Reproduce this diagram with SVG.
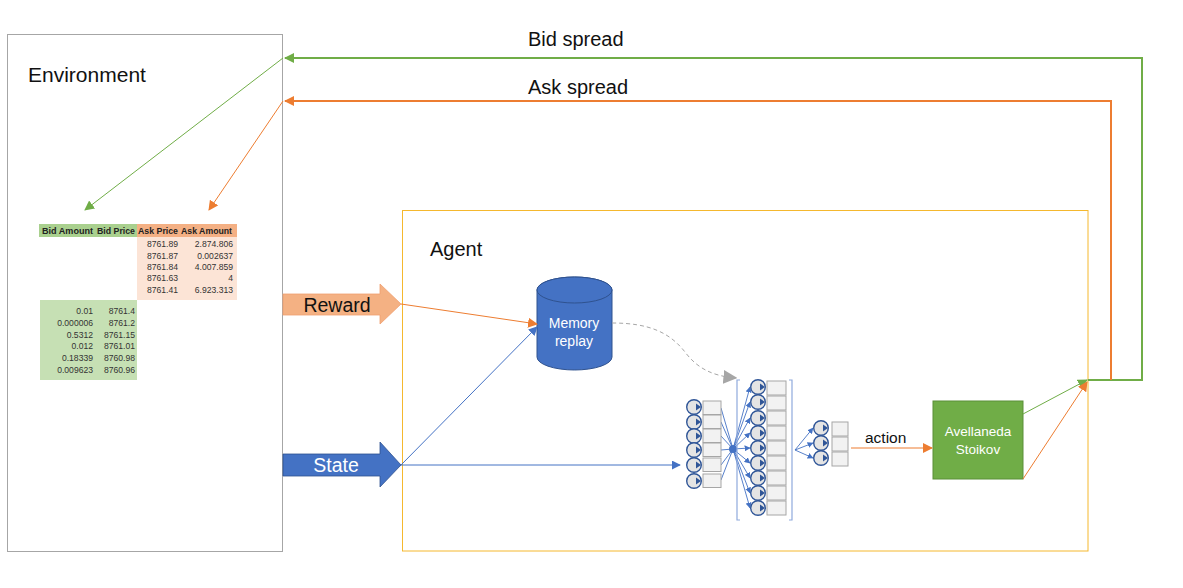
<svg xmlns="http://www.w3.org/2000/svg" width="1183" height="588" viewBox="0 0 1183 588">
<style>
.t{font-family:"Liberation Sans",Arial,sans-serif}
.hd{font-family:"Liberation Sans",Arial,sans-serif;font-size:9px;font-weight:bold;fill:#222}
.v{font-family:"Liberation Sans",Arial,sans-serif;font-size:8.6px;fill:#333;text-anchor:end}
.nc{fill:#E4E4E4;stroke:#2F5597;stroke-width:1.4}
.nr{fill:#F2F2F2;stroke:#A6A6A6;stroke-width:1}
.nl{stroke:#4472C4;stroke-width:0.9;fill:none}
</style>
<defs>
<marker id="ag" viewBox="0 0 10 10" refX="9" refY="5" markerWidth="10" markerHeight="10" markerUnits="userSpaceOnUse" orient="auto"><path d="M0,0L10,5L0,10Z" fill="#70AD47"/></marker>
<marker id="ao" viewBox="0 0 10 10" refX="9" refY="5" markerWidth="10" markerHeight="10" markerUnits="userSpaceOnUse" orient="auto"><path d="M0,0L10,5L0,10Z" fill="#ED7D31"/></marker>
<marker id="ab" viewBox="0 0 10 10" refX="9" refY="5" markerWidth="9" markerHeight="9" markerUnits="userSpaceOnUse" orient="auto"><path d="M0,0L10,5L0,10Z" fill="#4472C4"/></marker>
<marker id="abs" viewBox="0 0 10 10" refX="9" refY="5" markerWidth="6" markerHeight="6" markerUnits="userSpaceOnUse" orient="auto"><path d="M0,0L10,5L0,10Z" fill="#4472C4"/></marker>
<marker id="agr" viewBox="0 0 10 10" refX="9" refY="5" markerWidth="14" markerHeight="14" markerUnits="userSpaceOnUse" orient="auto"><path d="M0,0L10,5L0,10Z" fill="#A6A6A6"/></marker>
<g id="neu"><circle class="nc" cx="0" cy="0" r="7.3"/><path d="M2,-3.5L7,0L2,3.5Z" fill="#2F5597"/></g>
</defs>

<g id="environment">
<rect x="7.5" y="34.5" width="275" height="517" fill="#fff" stroke="#A6A6A6" stroke-width="1"/>
<text class="t" x="28" y="82" font-size="21" fill="#111">Environment</text>
</g>

<g id="orderbook">
<rect x="39" y="224" width="98" height="13" fill="#A9D08E"/>
<rect x="137" y="224" width="100" height="13" fill="#F4B084"/>
<rect x="137" y="237" width="100" height="63" fill="#FCE4D6"/>
<rect x="40" y="300" width="97" height="80" fill="#C6E0B4"/>
<text class="hd" x="42" y="234" textLength="51" lengthAdjust="spacingAndGlyphs">Bid Amount</text>
<text class="hd" x="97" y="234" textLength="38" lengthAdjust="spacingAndGlyphs">Bid Price</text>
<text class="hd" x="138" y="234" textLength="40" lengthAdjust="spacingAndGlyphs">Ask Price</text>
<text class="hd" x="181" y="234" textLength="51" lengthAdjust="spacingAndGlyphs">Ask Amount</text>
<text class="v" x="178" y="247">8761.89</text><text class="v" x="233" y="247">2.874.806</text>
<text class="v" x="178" y="259">8761.87</text><text class="v" x="233" y="259">0.002637</text>
<text class="v" x="178" y="270">8761.84</text><text class="v" x="233" y="270">4.007.859</text>
<text class="v" x="178" y="281">8761.63</text><text class="v" x="233" y="281">4</text>
<text class="v" x="178" y="293">8761.41</text><text class="v" x="233" y="293">6.923.313</text>
<text class="v" x="93" y="314">0.01</text><text class="v" x="135" y="314">8761.4</text>
<text class="v" x="93" y="326">0.000006</text><text class="v" x="135" y="326">8761.2</text>
<text class="v" x="93" y="338">0.5312</text><text class="v" x="135" y="338">8761.15</text>
<text class="v" x="93" y="349">0.012</text><text class="v" x="135" y="349">8761.01</text>
<text class="v" x="93" y="361">0.18339</text><text class="v" x="135" y="361">8760.98</text>
<text class="v" x="93" y="373">0.009623</text><text class="v" x="135" y="373">8760.96</text>
</g>

<g id="agent">
<rect x="402.5" y="210.5" width="685.5" height="340.5" fill="none" stroke="#F5B82E" stroke-width="1"/>
<text class="t" x="430" y="256" font-size="20" fill="#111">Agent</text>
</g>

<g id="reward">
<path d="M283,294 L380,294 L380,284 L401,304 L380,324 L380,315 L283,315 Z" fill="#F4B183" stroke="#F0A070" stroke-width="0.8"/>
<text class="t" x="337" y="312" font-size="19.5" text-anchor="middle" fill="#111">Reward</text>
</g>

<g id="state">
<path d="M283,454 L380,454 L380,442 L401,465 L380,487 L380,476 L283,476 Z" fill="#4472C4" stroke="#2F528F" stroke-width="0.8"/>
<text class="t" x="336" y="472" font-size="19.5" text-anchor="middle" fill="#fff">State</text>
</g>

<g id="memory-replay">
<path d="M537,290 L537,357 A37.5,13 0 0 0 612,357 L612,290 A37.5,13 0 0 0 537,290 Z" fill="#4472C4" stroke="#2F528F" stroke-width="1"/>
<ellipse cx="574.5" cy="290" rx="37.5" ry="13" fill="#4472C4" stroke="#2F528F" stroke-width="1"/>
<text class="t" x="574" y="328" font-size="14" text-anchor="middle" fill="#fff">Memory</text>
<text class="t" x="574" y="346" font-size="14" text-anchor="middle" fill="#fff">replay</text>
</g>

<g id="neural-network">
<g class="nl">
<path d="M721,408L733,449M721,422L733,449M721,436L733,449M721,450L733,449M721,465L733,449M721,480L733,449"/>
</g>
<g class="nl" marker-end="url(#abs)">
<path d="M733,449L750,387"/><path d="M733,449L750,402"/><path d="M733,449L750,418"/><path d="M733,449L750,433"/><path d="M733,449L750,448"/><path d="M733,449L750,463"/><path d="M733,449L750,478"/><path d="M733,449L750,493"/><path d="M733,449L750,508"/>
<path d="M795,450L813,428"/><path d="M795,450L813,443"/><path d="M795,450L813,458"/>
</g>
<circle cx="733" cy="449" r="4" fill="#4472C4"/>
<path d="M740,380 L737,380 L737,520 L740,520 M789,380 L792,380 L792,520 L789,520" fill="none" stroke="#8FAADC" stroke-width="1.2"/>
<g>
<rect class="nr" x="703" y="401" width="18" height="13.5"/><rect class="nr" x="703" y="415" width="18" height="13.5"/><rect class="nr" x="703" y="429" width="18" height="13.5"/><rect class="nr" x="703" y="443" width="18" height="13.5"/><rect class="nr" x="703" y="458" width="18" height="13.5"/><rect class="nr" x="703" y="474" width="18" height="13.5"/>
<use href="#neu" x="694" y="407"/><use href="#neu" x="694" y="422"/><use href="#neu" x="694" y="436"/><use href="#neu" x="694" y="450"/><use href="#neu" x="694" y="465"/><use href="#neu" x="694" y="481"/>
</g>
<g>
<rect class="nr" x="767" y="381" width="19" height="14"/><rect class="nr" x="767" y="396" width="19" height="14"/><rect class="nr" x="767" y="411" width="19" height="14"/><rect class="nr" x="767" y="426" width="19" height="14"/><rect class="nr" x="767" y="441" width="19" height="14"/><rect class="nr" x="767" y="456" width="19" height="14"/><rect class="nr" x="767" y="471" width="19" height="14"/><rect class="nr" x="767" y="486" width="19" height="14"/><rect class="nr" x="767" y="501" width="19" height="14"/>
<use href="#neu" x="758" y="387"/><use href="#neu" x="758" y="402"/><use href="#neu" x="758" y="418"/><use href="#neu" x="758" y="433"/><use href="#neu" x="758" y="448"/><use href="#neu" x="758" y="463"/><use href="#neu" x="758" y="478"/><use href="#neu" x="758" y="493"/><use href="#neu" x="758" y="508"/>
</g>
<g>
<rect class="nr" x="832" y="422" width="16" height="14"/><rect class="nr" x="832" y="437" width="16" height="14"/><rect class="nr" x="832" y="452" width="16" height="14"/>
<use href="#neu" x="821" y="428"/><use href="#neu" x="821" y="443"/><use href="#neu" x="821" y="458"/>
</g>
</g>

<g id="avellaneda-stoikov">
<rect x="933" y="401" width="90" height="78" fill="#70AD47" stroke="#5A8F38" stroke-width="1"/>
<text class="t" x="978" y="436" font-size="13.5" text-anchor="middle" fill="#fff">Avellaneda</text>
<text class="t" x="978" y="454" font-size="13.5" text-anchor="middle" fill="#fff">Stoikov</text>
</g>

<g id="connectors" fill="none">
<path d="M1088,380 L1142,380 L1142,58 L285,58" stroke="#70AD47" stroke-width="2" marker-end="url(#ag)"/>
<path d="M1111,380 L1111,101 L285,101" stroke="#ED7D31" stroke-width="2" marker-end="url(#ao)"/>
<path d="M283,58 L85,210" stroke="#70AD47" stroke-width="1" marker-end="url(#ag)"/>
<path d="M283,101 L209,210" stroke="#ED7D31" stroke-width="1" marker-end="url(#ao)"/>
<path d="M401,304 L537,324" stroke="#ED7D31" stroke-width="1" marker-end="url(#ao)"/>
<path d="M401,465 L537,327" stroke="#4472C4" stroke-width="1" marker-end="url(#ab)"/>
<path d="M401,465 L680,465" stroke="#4472C4" stroke-width="1" marker-end="url(#ab)"/>
<path d="M612,323 C650,323 670,333 685,352 C697,368 712,376 736,378" stroke="#A6A6A6" stroke-width="1" stroke-dasharray="4,3" marker-end="url(#agr)"/>
<path d="M851,448 L932,448" stroke="#ED7D31" stroke-width="1.2" marker-end="url(#ao)"/>
<path d="M1023,414 L1087,380" stroke="#70AD47" stroke-width="1" marker-end="url(#ag)"/>
<path d="M1023,479 L1087,382" stroke="#ED7D31" stroke-width="1" marker-end="url(#ao)"/>
<text class="t" x="528" y="46" font-size="20" fill="#111" stroke="none">Bid spread</text>
<text class="t" x="528" y="94" font-size="20" fill="#111" stroke="none">Ask spread</text>
<text class="t" x="865" y="443" font-size="15.5" fill="#111" stroke="none">action</text>
</g>
</svg>
